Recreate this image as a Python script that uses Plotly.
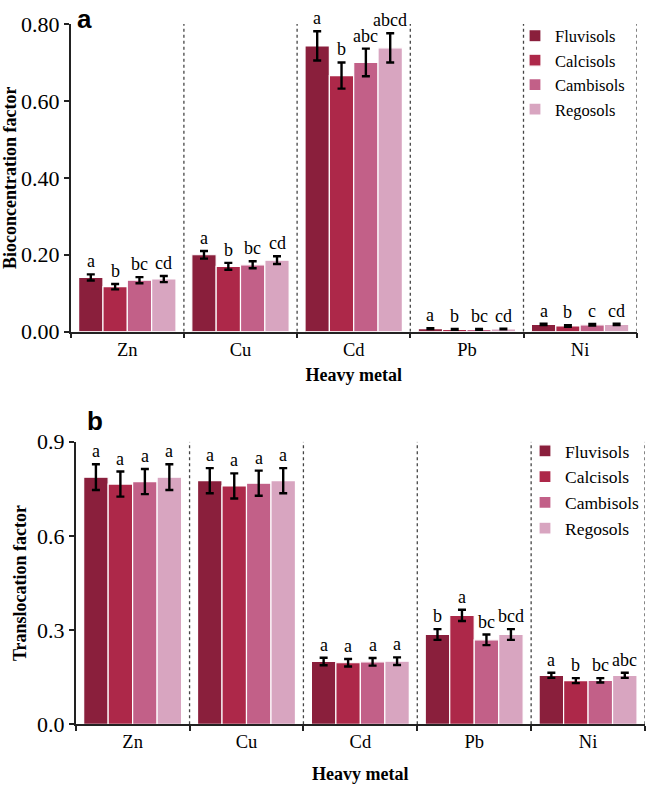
import plotly.graph_objects as go

metals = ["Zn", "Cu", "Cd", "Pb", "Ni"]
soils = ["Fluvisols", "Calcisols", "Cambisols", "Regosols"]
colors = ["#8a1f3c", "#ad2849", "#c26088", "#d8a5c0"]

# (a) bioconcentration factor
bcf_fluvisols = [0.141, 0.200, 0.743, 0.008, 0.019]
bcf_calcisols = [0.117, 0.170, 0.666, 0.006, 0.015]
bcf_cambisols = [0.134, 0.174, 0.700, 0.006, 0.018]
bcf_regosols = [0.137, 0.186, 0.738, 0.007, 0.019]
bcf_err_fluvisols = [0.008, 0.010, 0.038, 0.001, 0.002]
bcf_err_calcisols = [0.007, 0.009, 0.034, 0.001, 0.002]
bcf_err_cambisols = [0.008, 0.009, 0.036, 0.001, 0.002]
bcf_err_regosols = [0.008, 0.010, 0.038, 0.001, 0.002]
bcf_letters_fluvisols = ["a", "a", "a", "a", "a"]
bcf_letters_calcisols = ["b", "b", "b", "b", "b"]
bcf_letters_cambisols = ["bc", "bc", "abc", "bc", "c"]
bcf_letters_regosols = ["cd", "cd", "abcd", "cd", "cd"]

# (b) translocation factor
tf_fluvisols = [0.787, 0.776, 0.200, 0.286, 0.156]
tf_calcisols = [0.765, 0.759, 0.196, 0.347, 0.139]
tf_cambisols = [0.773, 0.768, 0.199, 0.269, 0.140]
tf_regosols = [0.787, 0.776, 0.201, 0.286, 0.156]
tf_err_fluvisols = [0.041, 0.040, 0.012, 0.017, 0.008]
tf_err_calcisols = [0.040, 0.040, 0.012, 0.018, 0.008]
tf_err_cambisols = [0.040, 0.040, 0.012, 0.017, 0.007]
tf_err_regosols = [0.041, 0.040, 0.012, 0.017, 0.008]
tf_letters_fluvisols = ["a", "a", "a", "b", "a"]
tf_letters_calcisols = ["a", "a", "a", "a", "b"]
tf_letters_cambisols = ["a", "a", "a", "bc", "bc"]
tf_letters_regosols = ["a", "a", "a", "bcd", "abc"]

bcf = [bcf_fluvisols, bcf_calcisols, bcf_cambisols, bcf_regosols]
bcf_err = [bcf_err_fluvisols, bcf_err_calcisols, bcf_err_cambisols, bcf_err_regosols]
bcf_letters = [bcf_letters_fluvisols, bcf_letters_calcisols, bcf_letters_cambisols, bcf_letters_regosols]
tf = [tf_fluvisols, tf_calcisols, tf_cambisols, tf_regosols]
tf_err = [tf_err_fluvisols, tf_err_calcisols, tf_err_cambisols, tf_err_regosols]
tf_letters = [tf_letters_fluvisols, tf_letters_calcisols, tf_letters_cambisols, tf_letters_regosols]

W, H = 646, 785
SERIF = "Liberation Serif, Times New Roman, serif"
SANS = "Liberation Sans, Arial, sans-serif"
BARGAP = 0.14

# panel domains (paper fractions)
dom_a_x = [70.7 / W, 636.7 / W]
dom_a_y = [1 - 331.7 / H, 1 - 24 / H]
dom_b_x = [75.7 / W, 645 / W]
dom_b_y = [1 - 724.3 / H, 1 - 441.7 / H]

fig = go.Figure()

panels = [
    ("x", "y", bcf, bcf_err, bcf_letters, "legend", dom_a_x),
    ("x2", "y2", tf, tf_err, tf_letters, "legend2", dom_b_x),
]

annotations = []
for xa, ya, vals, errs, letters, leg, dom in panels:
    cat_px = (dom[1] - dom[0]) * W / len(metals)
    bar_px = cat_px * (1 - BARGAP) / len(soils)
    for i, soil in enumerate(soils):
        fig.add_trace(go.Bar(
            x=metals, y=vals[i], name=soil, xaxis=xa, yaxis=ya,
            marker=dict(color=colors[i], line=dict(color="white", width=1.2)),
            error_y=dict(type="data", array=errs[i], color="black",
                         thickness=2.4, width=4),
            legend=leg, legendgroup=leg + soil,
        ))
        for j, m in enumerate(metals):
            annotations.append(dict(
                x=m, y=vals[i][j] + errs[i][j], xref=xa, yref=ya,
                text=letters[i][j], showarrow=False, yanchor="bottom",
                xshift=(i - 1.5) * bar_px, yshift=1,
                font=dict(family=SERIF, size=18, color="black"),
            ))

# dashed separators between metals
shapes = []
for xa, ya, top in [("x", "y", 0.8), ("x2", "y2", 0.9)]:
    for k in range(len(metals)):
        shapes.append(dict(type="line", xref=xa, yref=ya, x0=k + 0.5, x1=k + 0.5,
                           y0=0, y1=top, line=dict(color="#444", width=1.3, dash="dot")))

annotations.append(dict(x=75 / W, y=1 - 2 / H, xref="paper", yref="paper", text="<b>a</b>",
                        showarrow=False, xanchor="left", yanchor="top",
                        font=dict(family=SANS, size=26, color="black")))
annotations.append(dict(x=85 / W, y=1 - 404 / H, xref="paper", yref="paper", text="<b>b</b>",
                        showarrow=False, xanchor="left", yanchor="top",
                        font=dict(family=SANS, size=26, color="black")))

xaxis_common = dict(
    type="category", range=[-0.5, 4.5], showline=True, linecolor="#222", linewidth=1.5,
    ticks="outside", tickson="boundaries", ticklen=5, tickcolor="#222", tickwidth=1.5,
    tickfont=dict(family=SERIF, size=18.5, color="black"), showgrid=False, zeroline=False,
    automargin=False,
)
yaxis_common = dict(
    showline=True, linecolor="#222", linewidth=1.5, ticks="outside", ticklen=5,
    tickcolor="#222", tickwidth=1.5, tickfont=dict(family=SERIF, size=22, color="black"),
    showgrid=False, zeroline=False, automargin=False,
)
title_font = dict(family=SERIF, size=18, color="black")

fig.update_layout(
    width=W, height=H, margin=dict(l=0, r=0, t=0, b=0, autoexpand=False),
    paper_bgcolor="white", plot_bgcolor="white",
    barmode="group", bargap=BARGAP, bargroupgap=0,
    xaxis=dict(domain=dom_a_x, anchor="y",
               title=dict(text="<b>Heavy metal</b>", font=title_font, standoff=10),
               **xaxis_common),
    yaxis=dict(domain=dom_a_y, anchor="x", range=[0, 0.8], dtick=0.2, tickformat=".2f",
               title=dict(text="<b>Bioconcentration factor</b>", font=title_font, standoff=1),
               **yaxis_common),
    xaxis2=dict(domain=dom_b_x, anchor="y2",
                title=dict(text="<b>Heavy metal</b>", font=title_font, standoff=16),
                **xaxis_common),
    yaxis2=dict(domain=dom_b_y, anchor="x2", range=[0, 0.9], dtick=0.3, tickformat=".1f",
                title=dict(text="<b>Translocation factor</b>", font=title_font, standoff=6),
                **yaxis_common),
    legend=dict(x=515 / W, y=1 - 18.5 / H, xanchor="left", yanchor="top",
                font=dict(family=SERIF, size=16.5, color="black"), bgcolor="rgba(0,0,0,0)",
                tracegroupgap=0, itemwidth=30),
    legend2=dict(x=525 / W, y=1 - 433 / H, xanchor="left", yanchor="top",
                 font=dict(family=SERIF, size=17.5, color="black"), bgcolor="rgba(0,0,0,0)",
                 tracegroupgap=0, itemwidth=30),
    annotations=annotations,
    shapes=shapes,
    showlegend=True,
)

fig.write_html("out.html", config={"displayModeBar": False},
               post_script="document.body.style.margin='0px';")
